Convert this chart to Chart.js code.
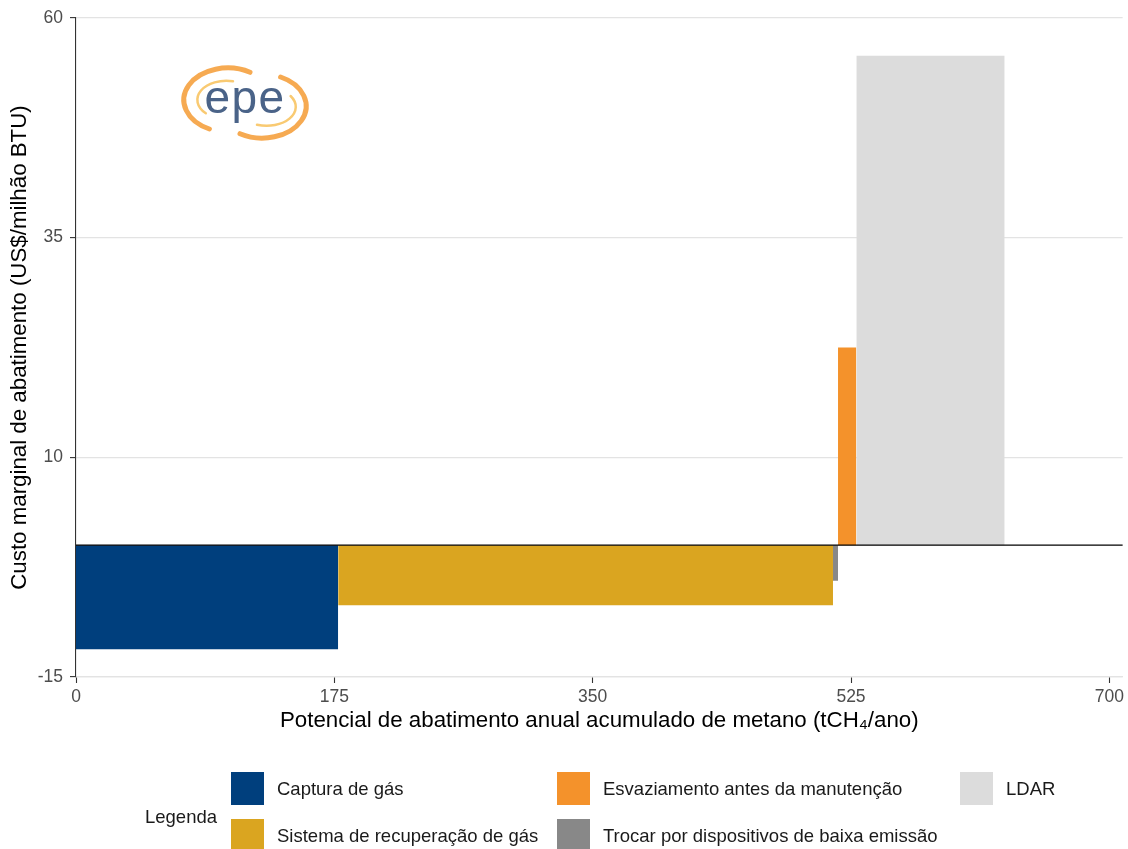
<!DOCTYPE html>
<html>
<head>
<meta charset="utf-8">
<script src="https://cdn.jsdelivr.net/npm/chart.js@4.4.1/dist/chart.umd.min.js"></script>
<style>
  html, body { margin:0; padding:0; background:#fff; }
  #wrap { position:relative; width:1128px; height:849px; overflow:hidden; font-family:"Liberation Sans", Arial, sans-serif; }
  #c { position:absolute; left:0; top:0; }
  #logo { position:absolute; left:0; top:0; pointer-events:none; }
  .leg-title { position:absolute; font-size:18.5px; color:#1a1a1a; line-height:22px; }
  .leg-item { position:absolute; height:33px; display:flex; align-items:center; }
  .leg-sw { width:33px; height:33px; flex:0 0 33px; }
  .leg-tx { margin-left:13px; font-size:18.5px; color:#1a1a1a; white-space:nowrap; }
</style>
</head>
<body>
<div id="wrap">
  <canvas id="c" width="1128" height="849"></canvas>
  <svg id="logo" width="1128" height="180" viewBox="0 0 1128 180">
    <path d="M209.4 129 A44 32 0 1 1 250 72.3" fill="none" stroke="#f6aa52" stroke-width="5" stroke-linecap="round"/>
    <path d="M280.6 77 A44 32 0 1 1 240 133.7" fill="none" stroke="#f6aa52" stroke-width="5" stroke-linecap="round"/>
    <path d="M205.8 113.2 A29 19 0 0 1 233 81.3" fill="none" stroke="#f9ca72" stroke-width="2.5" stroke-linecap="round"/>
    <path d="M257 124.7 A29 19 0 0 0 290.6 96" fill="none" stroke="#f9ca72" stroke-width="2.5" stroke-linecap="round"/>
    <text x="245" y="113" text-anchor="middle" font-family="Liberation Sans, Arial, sans-serif" font-size="46" fill="#4a6388" letter-spacing="1.5">epe</text>
  </svg>
  <div id="legend"></div>
</div>
<script>
// ---- data ----
const categories = [
  'Captura de gás',
  'Sistema de recuperação de gás',
  'Trocar por dispositivos de baixa emissão',
  'Esvaziamento antes da manutenção',
  'LDAR'
];
const potentials = [177.6, 335.2, 3.4, 12.4, 100.5];   // tCH4/ano (bar widths)
const costs = [-11.85, -6.84, -4.04, 22.5, 55.7];      // US$/milhão BTU
const xTicks = [0, 175, 350, 525, 700];
const yTicks = [-15, 10, 35, 60];
const legendOrder = [
  'Captura de gás',
  'Esvaziamento antes da manutenção',
  'LDAR',
  'Sistema de recuperação de gás',
  'Trocar por dispositivos de baixa emissão'
];
const legendTitle = 'Legenda';
const xTitle = 'Potencial de abatimento anual acumulado de metano (tCH₄/ano)';
const yTitle = 'Custo marginal de abatimento (US$/milhão BTU)';

// ---- styles ----
const colors = {
  'Captura de gás': '#003f7d',
  'Sistema de recuperação de gás': '#daa520',
  'Trocar por dispositivos de baixa emissão': '#888888',
  'Esvaziamento antes da manutenção': '#f4922b',
  'LDAR': '#dcdcdc'
};
const X_MAX = 709, Y_MIN = -15, Y_MAX = 60;

// build rectangles (cumulative x)
let cum = 0;
const datasets = categories.map((name, i) => {
  const x0 = cum, x1 = cum + potentials[i];
  cum = x1;
  return {
    label: name,
    data: [{x: x0, y: costs[i]}, {x: x1, y: costs[i]}],
    showLine: true,
    borderWidth: 0,
    borderColor: 'rgba(0,0,0,0)',
    backgroundColor: colors[name],
    pointRadius: 0,
    fill: 'origin',
    tension: 0
  };
});

const zeroLine = {
  id: 'zeroLine',
  afterDatasetsDraw(chart) {
    const {ctx, chartArea, scales} = chart;
    const y = scales.y.getPixelForValue(0);
    ctx.save();
    ctx.strokeStyle = '#000';
    ctx.lineWidth = 1.3;
    ctx.beginPath();
    ctx.moveTo(chartArea.left, y);
    ctx.lineTo(chartArea.right, y);
    ctx.stroke();
    ctx.restore();
  }
};

const tickFont = {family: '"Liberation Sans", Arial, sans-serif', size: 17.5};
const titleFont = {family: '"Liberation Sans", Arial, sans-serif', size: 22.3};

new Chart(document.getElementById('c'), {
  type: 'scatter',
  data: {datasets},
  options: {
    responsive: false,
    animation: false,
    layout: {padding: {left: 0, right: 5, top: 18, bottom: 0}},
    plugins: {legend: {display: false}, tooltip: {enabled: false}},
    scales: {
      x: {
        type: 'linear', min: 0, max: X_MAX,
        afterBuildTicks: s => { s.ticks = xTicks.map(v => ({value: v})); },
        afterFit: s => { s.height = 172; },
        grid: {drawOnChartArea: false, drawTicks: true, tickLength: 6, tickColor: '#333', tickWidth: 1.1},
        border: {display: true, color: '#e3e3e3', width: 1.2},
        ticks: {font: tickFont, color: '#4d4d4d', padding: 4, maxRotation: 0, autoSkip: false},
        title: {display: true, text: xTitle, font: titleFont, color: '#000', padding: {top: 0, bottom: 114.5}}
      },
      y: {
        type: 'linear', min: Y_MIN, max: Y_MAX,
        afterBuildTicks: s => { s.ticks = yTicks.map(v => ({value: v})); },
        afterFit: s => { s.width = 76; },
        grid: {color: '#e3e3e3', lineWidth: 1.2, drawTicks: true, tickLength: 6, tickColor: '#333', tickWidth: 1.1},
        border: {display: true, color: '#333', width: 1.1},
        ticks: {font: tickFont, color: '#4d4d4d', padding: 7, autoSkip: false},
        title: {display: true, text: yTitle, font: titleFont, color: '#000', padding: {top: 6, bottom: 0}}
      }
    }
  },
  plugins: [zeroLine]
});

// ---- legend (HTML) ----
const leg = document.getElementById('legend');
const t = document.createElement('div');
t.className = 'leg-title';
t.textContent = legendTitle;
t.style.left = '145px';
t.style.top = '806px';
leg.appendChild(t);
const colX = [231, 557, 960];
const rowY = [772, 819];
legendOrder.forEach((name, i) => {
  const it = document.createElement('div');
  it.className = 'leg-item';
  it.style.left = colX[i % 3] + 'px';
  it.style.top = rowY[Math.floor(i / 3)] + 'px';
  const sw = document.createElement('div');
  sw.className = 'leg-sw';
  sw.style.background = colors[name];
  const tx = document.createElement('span');
  tx.className = 'leg-tx';
  tx.textContent = name;
  it.appendChild(sw);
  it.appendChild(tx);
  leg.appendChild(it);
});
</script>
</body>
</html>
